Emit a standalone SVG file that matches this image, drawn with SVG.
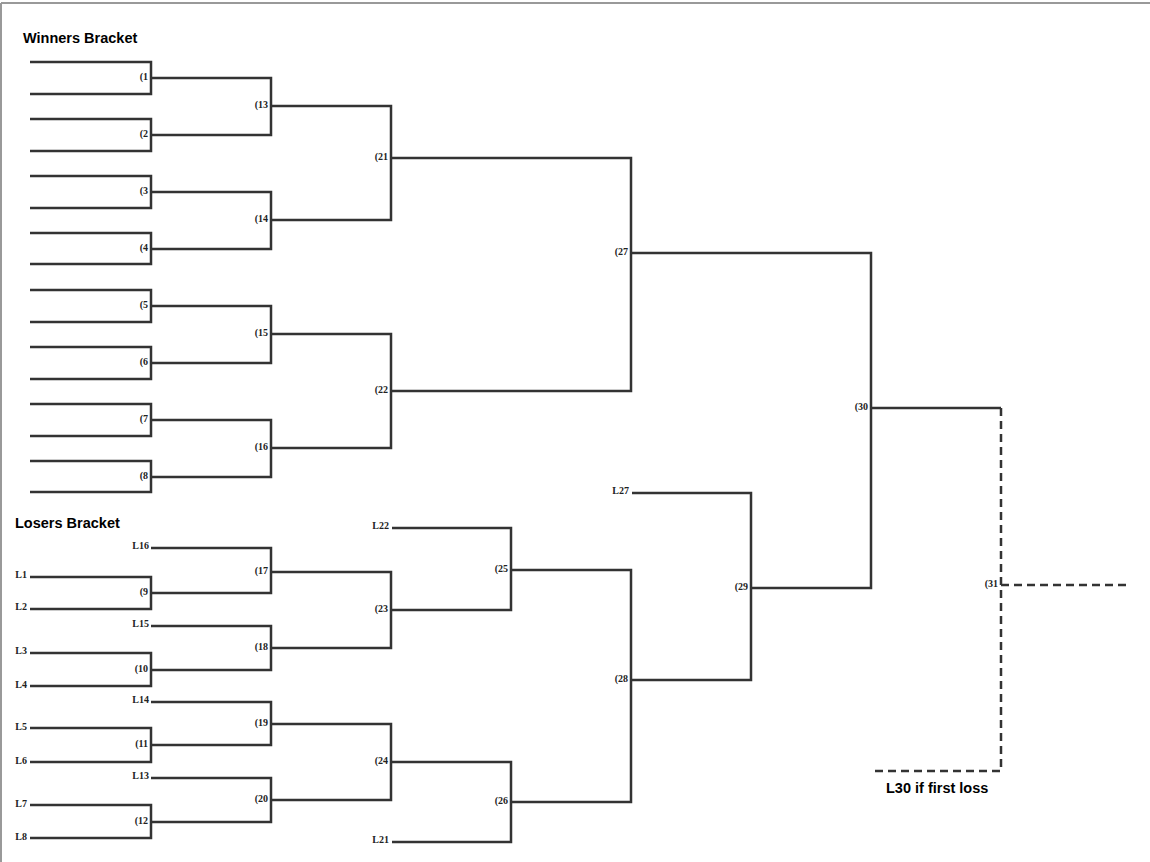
<svg xmlns="http://www.w3.org/2000/svg" width="1150" height="862" viewBox="0 0 1150 862">
<style>
.l{fill:none;stroke:#333;stroke-width:2.5}
.d{fill:none;stroke:#333;stroke-width:2.5;stroke-dasharray:8 5}
.t{font-family:"Liberation Serif",serif;font-weight:bold;font-size:10px;fill:#222;text-anchor:end;dominant-baseline:middle}
.h{font-family:"Liberation Sans",sans-serif;font-weight:bold;font-size:14.5px;fill:#000}
</style>
<rect width="1150" height="862" fill="#fff"/>
<path d="M1,3H1150M1,3V862" stroke="#999" stroke-width="2" fill="none"/>
<text class="h" x="23" y="43">Winners Bracket</text>
<text class="h" x="15" y="528">Losers Bracket</text>
<g id="connectors">
<path class="l" d="M30,62H151V94H30M30,119H151V151H30M30,176H151V208H30M30,233H151V264H30M30,290H151V322H30M30,347H151V379H30M30,404H151V436H30M30,461H151V492H30"/>
<path class="l" d="M151,78H271V135H151M151,192H271V249H151M151,306H271V363H151M151,420H271V477H151"/>
<path class="l" d="M271,106H391V220H271M271,334H391V448H271"/>
<path class="l" d="M391,158H631V391H391"/>
<path class="l" d="M631,253H871V588H751"/>
<path class="l" d="M871,408H1001"/>
<path class="d" d="M1001,408V771H873M1001,585H1127"/>
<path class="l" d="M30,577H151V609H30M30,653H151V686H30M30,728H151V762H30M30,805H151V838H30"/>
<path class="l" d="M151,548H271V593H151M151,626H271V670H151M151,702H271V745H151M151,778H271V822H151"/>
<path class="l" d="M271,572H391V648H271M271,724H391V800H271"/>
<path class="l" d="M392,528H511V610H391M391,762H511V842H392"/>
<path class="l" d="M511,570H631V802H511"/>
<path class="l" d="M632,493H751V680H631"/>
</g>
<g id="labels">
<text class="t" x="148" y="78">(1</text><text class="t" x="148" y="135">(2</text><text class="t" x="148" y="192">(3</text><text class="t" x="148" y="249">(4</text>
<text class="t" x="148" y="306">(5</text><text class="t" x="148" y="363">(6</text><text class="t" x="148" y="420">(7</text><text class="t" x="148" y="477">(8</text>
<text class="t" x="268" y="106">(13</text><text class="t" x="268" y="220">(14</text><text class="t" x="268" y="334">(15</text><text class="t" x="268" y="448">(16</text>
<text class="t" x="388" y="158">(21</text><text class="t" x="388" y="391">(22</text>
<text class="t" x="628" y="253">(27</text><text class="t" x="868" y="408">(30</text><text class="t" x="998" y="585">(31</text>
<text class="t" x="27" y="576">L1</text><text class="t" x="27" y="608">L2</text><text class="t" x="27" y="652">L3</text><text class="t" x="27" y="686">L4</text>
<text class="t" x="27" y="728">L5</text><text class="t" x="27" y="762">L6</text><text class="t" x="27" y="805">L7</text><text class="t" x="27" y="838">L8</text>
<text class="t" x="148" y="593">(9</text><text class="t" x="148" y="670">(10</text><text class="t" x="148" y="745">(11</text><text class="t" x="148" y="822">(12</text>
<text class="t" x="149" y="547">L16</text><text class="t" x="149" y="625">L15</text><text class="t" x="149" y="701">L14</text><text class="t" x="149" y="777">L13</text>
<text class="t" x="268" y="572">(17</text><text class="t" x="268" y="648">(18</text><text class="t" x="268" y="724">(19</text><text class="t" x="268" y="800">(20</text>
<text class="t" x="388" y="610">(23</text><text class="t" x="388" y="762">(24</text>
<text class="t" x="389" y="527">L22</text><text class="t" x="389" y="841">L21</text>
<text class="t" x="508" y="570">(25</text><text class="t" x="508" y="802">(26</text>
<text class="t" x="628" y="680">(28</text><text class="t" x="629" y="492">L27</text><text class="t" x="748" y="588">(29</text>
</g>
<text class="h" x="886" y="793">L30 if first loss</text>
</svg>
